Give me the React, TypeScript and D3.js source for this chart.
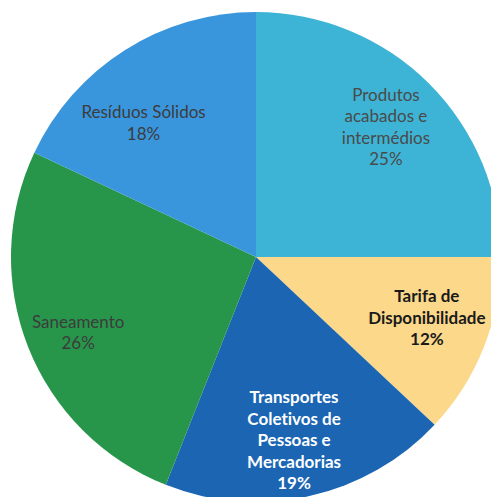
import * as d3 from 'd3'
import React, { useEffect, useRef } from 'react'

const categories = [
    ['Produtos', 'acabados e', 'intermédios'],
    ['Tarifa de', 'Disponibilidade'],
    ['Transportes', 'Coletivos de', 'Pessoas e', 'Mercadorias'],
    ['Saneamento'],
    ['Resíduos Sólidos'],
];
const values = [25, 12, 19, 26, 18];
const colors = ['#3db4d6', '#fbd88a', '#1b65b3', '#27964b', '#3a96dc'];
const labelColors = ['#4a4a4a', '#1a1a1a', '#ffffff', '#3c3c3c', '#3c3c3c'];
const labelWeights = ['normal', 'bold', 'bold', 'normal', 'normal'];

// small nudges so labels sit where the original placed them
const labelNudge: [number, number][] = [[0, 0], [0, -7], [-2, 4], [-7, 8], [-14, 21]];

interface Slice { lines: string[]; value: number; color: string; textColor: string; weight: string; nudge: [number, number] }

const App: React.FC = () => {
    const ref = useRef<SVGSVGElement>(null);

    useEffect(() => {
        document.body.style.margin = '0';
        if (!ref.current) return;
        const width = 491, height = 497;
        const cx = 256, cy = 257, radius = 245;
        const data: Slice[] = values.map((v, i) => ({
            lines: categories[i], value: v, color: colors[i], textColor: labelColors[i],
            weight: labelWeights[i], nudge: labelNudge[i],
        }));

        const svg = d3.select(ref.current)
            .attr('width', width)
            .attr('height', height);
        svg.selectAll('*').remove();

        const g = svg.append('g').attr('transform', `translate(${cx},${cy})`);

        const pie = d3.pie<Slice>().sort(null).value(d => d.value);
        const arc = d3.arc<d3.PieArcDatum<Slice>>().innerRadius(0).outerRadius(radius);
        const labelArc = d3.arc<d3.PieArcDatum<Slice>>().innerRadius(radius * 0.75).outerRadius(radius * 0.75);
        const arcs = pie(data);

        g.append('g')
            .selectAll('path')
            .data(arcs)
            .enter()
            .append('path')
            .attr('fill', d => d.data.color)
            .attr('d', arc);

        const lineH = 21.5;
        const labels = g.append('g')
            .attr('font-family', 'Lato, "Open Sans", sans-serif')
            .attr('font-size', 17)
            .attr('text-anchor', 'middle')
            .style('font-variant-ligatures', 'none')
            .selectAll('text')
            .data(arcs)
            .enter()
            .append('text')
            .attr('transform', d => {
                const [x, y] = labelArc.centroid(d);
                return `translate(${x + d.data.nudge[0]},${y + d.data.nudge[1]})`;
            })
            .attr('fill', d => d.data.textColor)
            .attr('font-weight', d => d.data.weight);

        labels.each(function (d) {
            const lines = [...d.data.lines, `${d.data.value}%`];
            const top = -((lines.length - 1) * lineH) / 2 + 6;
            const t = d3.select(this);
            lines.forEach((l, i) => {
                t.append('tspan').attr('x', 0).attr('y', top + i * lineH).text(l);
            });
        });
    }, []);

    return <svg ref={ref}></svg>;
};

export default App;
